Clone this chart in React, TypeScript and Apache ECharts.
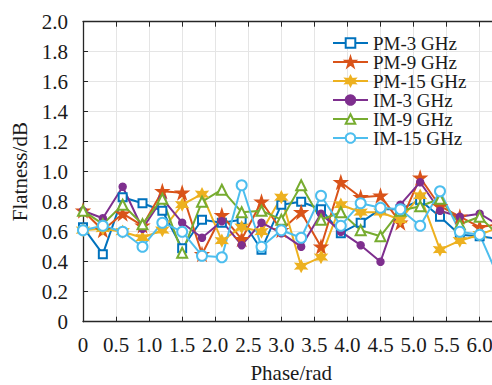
import React, { useEffect, useRef } from "react";
import * as echarts from "echarts";

const phases = [0, 0.3, 0.6, 0.9, 1.2, 1.5, 1.8, 2.1, 2.4, 2.7, 3.0, 3.3, 3.6, 3.9, 4.2, 4.5, 4.8, 5.1, 5.4, 5.7, 6.0, 6.3];

const pm3 = [0.63, 0.45, 0.83, 0.79, 0.74, 0.49, 0.68, 0.66, 0.68, 0.48, 0.78, 0.80, 0.75, 0.59, 0.66, 0.75, 0.75, 0.81, 0.70, 0.58, 0.57, 0.55];
const pm9 = [0.74, 0.61, 0.72, 0.64, 0.87, 0.86, 0.45, 0.71, 0.55, 0.80, 0.61, 0.73, 0.50, 0.93, 0.83, 0.84, 0.66, 0.96, 0.77, 0.70, 0.63, 0.65];
const pm15 = [0.61, 0.62, 0.60, 0.56, 0.61, 0.78, 0.85, 0.54, 0.63, 0.60, 0.83, 0.37, 0.43, 0.78, 0.73, 0.73, 0.68, 0.84, 0.48, 0.54, 0.58, 0.63];
const im3 = [0.74, 0.69, 0.90, 0.62, 0.82, 0.66, 0.56, 0.67, 0.51, 0.66, 0.59, 0.50, 0.72, 0.60, 0.51, 0.40, 0.78, 0.93, 0.74, 0.70, 0.72, 0.64];
const im9 = [0.74, 0.65, 0.78, 0.65, 0.82, 0.46, 0.80, 0.88, 0.73, 0.74, 0.68, 0.91, 0.68, 0.73, 0.61, 0.57, 0.74, 0.77, 0.82, 0.65, 0.70, 0.57];
const im15 = [0.61, 0.64, 0.60, 0.50, 0.66, 0.60, 0.44, 0.43, 0.91, 0.50, 0.61, 0.56, 0.84, 0.64, 0.79, 0.76, 0.75, 0.64, 0.87, 0.60, 0.58, 0.28];

const seriesNames = ["PM-3 GHz", "PM-9 GHz", "PM-15 GHz", "IM-3 GHz", "IM-9 GHz", "IM-15 GHz"];
const seriesValues = [pm3, pm9, pm15, im3, im9, im15];
const colors = ["#0072BD", "#D95319", "#EDB120", "#7E2F8E", "#77AC30", "#4DBEEE"];

const STAR5 = "path://M50,0 L61.2,34.5 L97.6,34.5 L68.2,55.9 L79.4,90.5 L50,69.1 L20.6,90.5 L31.8,55.9 L2.4,34.5 L38.8,34.5 Z";
const STAR6 = "path://M50,0 L62.5,28.3 L93.3,25 L75,50 L93.3,75 L62.5,71.7 L50,100 L37.5,71.7 L6.7,75 L25,50 L6.7,25 L37.5,28.3 Z";
const symbols = ["emptyRect", STAR5, STAR6, "circle", "emptyTriangle", "emptyCircle"];
const symbolSizes = [8, 12, 11, 7, 10, 10];

const FONT = "Liberation Serif";
const FS = 21;

function fmt(v: number) {
  if (Math.abs(v * 2 - Math.round(v * 2)) > 1e-6) return "";
  return v === 0 ? "0" : v.toFixed(1);
}

export default function App() {
  const ref = useRef<HTMLDivElement>(null);
  useEffect(() => {
    if (!ref.current) return;
    const chart = echarts.init(ref.current, null, { renderer: "svg" });
    const axisLine = { show: true, lineStyle: { color: "#262626", width: 1.3 } };
    chart.setOption({
      animation: false,
      backgroundColor: "#ffffff",
      grid: { left: 83, top: 21.7, width: 416.5, height: 300, containLabel: false, outerBoundsMode: "none" },
      legend: {
        orient: "vertical",
        left: 332,
        top: 33.5,
        padding: 0,
        itemWidth: 35,
        itemHeight: 12,
        itemGap: 0,
        data: seriesNames,
        textStyle: { fontFamily: FONT, fontSize: 19, color: "#1a1a1a" },
      },
      xAxis: [
        {
          type: "value",
          min: 0,
          max: 6.3,
          interval: 0.5,
          position: "bottom",
          name: "Phase/rad",
          nameLocation: "middle",
          nameGap: 41,
          nameTextStyle: { fontFamily: FONT, fontSize: FS, color: "#1a1a1a" },
          axisLine,
          axisTick: { show: true, inside: true, length: 5, lineStyle: { color: "#262626" } },
          axisLabel: { formatter: fmt, fontFamily: FONT, fontSize: FS, color: "#1a1a1a", margin: 13 },
          splitLine: { show: true, lineStyle: { color: "#e5e5e5", width: 1 } },
        },
        {
          type: "value",
          min: 0,
          max: 6.3,
          interval: 0.5,
          position: "top",
          axisLine,
          axisTick: { show: true, inside: true, length: 5, lineStyle: { color: "#262626" } },
          axisLabel: { show: false },
          splitLine: { show: false },
        },
      ],
      yAxis: {
        type: "value",
        min: 0,
        max: 2,
        interval: 0.2,
        name: "Flatness/dB",
        nameLocation: "middle",
        nameGap: 50,
        nameTextStyle: { fontFamily: FONT, fontSize: FS, color: "#1a1a1a" },
        axisLine,
        axisTick: { show: true, inside: true, length: 5, lineStyle: { color: "#262626" } },
        axisLabel: {
          formatter: (v: number) => (v === 0 ? "0" : v.toFixed(1)),
          fontFamily: FONT,
          fontSize: FS,
          color: "#1a1a1a",
          margin: 15,
        },
        splitLine: { show: true, lineStyle: { color: "#e5e5e5", width: 1 } },
      },
      series: seriesNames.map((name, k) => ({
        name,
        type: "line",
        xAxisIndex: 0,
        data: phases.map((p, i) => [p, seriesValues[k][i]]),
        symbol: symbols[k],
        symbolSize: symbolSizes[k],
        showAllSymbol: true,
        clip: true,
        color: colors[k],
        lineStyle: { color: colors[k], width: 2 },
        itemStyle: { color: colors[k], borderColor: colors[k], borderWidth: 1.5 },
        emphasis: { disabled: true },
      })),
    });
    return () => chart.dispose();
  }, []);
  return <div ref={ref} style={{ position: "fixed", left: 0, top: 0, width: 492, height: 385 }} />;
}
